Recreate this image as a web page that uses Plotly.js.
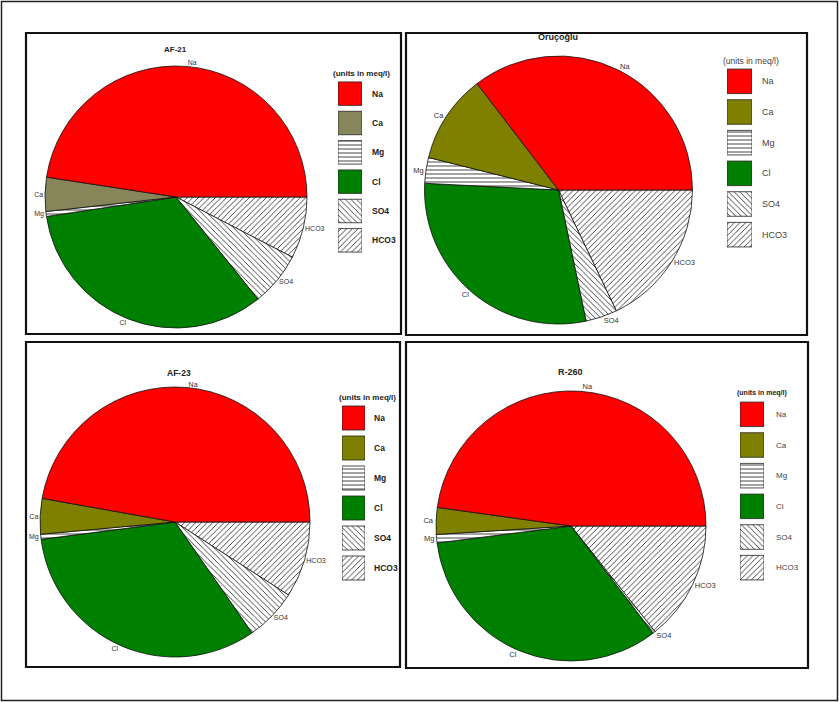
<!DOCTYPE html>
<html>
<head>
<meta charset="utf-8">
<script src="https://cdn.plot.ly/plotly-3.0.1.min.js"></script>
<style>html,body{margin:0;padding:0;background:#fff;}#chart{width:839px;height:702px;}</style>
</head>
<body>
<div id="chart"></div>
<script>
// ---- data (meq/l) ----
const categories = ['Na', 'Ca', 'Mg', 'Cl', 'SO4', 'HCO3'];
const sampleNames = ['AF-21', 'Oruçoğlu', 'AF-23', 'R-260'];
const af21Values = [47.6, 4.2, 0.6, 33.4, 6.65, 7.6];
const orucogluValues = [35.4, 10.7, 3.1, 29.1, 3.8, 17.9];
const af23Values = [47.2, 4.25, 0.6, 32.6, 6.25, 9.1];
const r260Values = [47.8, 3.2, 1.0, 33.4, 0.3, 14.3];
const legendTitle = '(units in meq/l)';

// ---- styles ----
const W = 839, H = 702;
const FONT = 'Arial, "Liberation Sans", sans-serif';
const colorsGrayOlive = ['#ff0000', '#86865a', '#ffffff', '#008000', '#ffffff', '#ffffff'];
const colorsOlive = ['#ff0000', '#808000', '#ffffff', '#008000', '#ffffff', '#ffffff'];
const shapes = ['', '', '-', '', '\\', '/'];
const PAT_SIZE = 4, PAT_SOLID = 0.18;

const px = v => v / W;
const py = v => 1 - v / H;
const rev = a => a.slice().reverse();

const panels = [
  {values: af21Values, colors: colorsGrayOlive, cx: 176, cy: 197, r: 131, lblSize: 7,
   title: {x: 175, y: 49, size: 8, bold: true},
   leg: {x0: 338, x1: 362, y0: 79, y1: 255, standoff: 9, size: 8.5, bold: true, color: '#222'},
   legTitle: {x: 361, y: 73, size: 8, bold: true}},
  {values: orucogluValues, colors: colorsOlive, cx: 558.5, cy: 190, r: 134, lblSize: 7.5,
   title: {x: 558, y: 37, size: 9, bold: true},
   leg: {x0: 727, x1: 752, y0: 66, y1: 250, standoff: 9, size: 9, bold: false, color: '#444'},
   legTitle: {x: 751, y: 61, size: 8.5, bold: false}},
  {values: af23Values, colors: colorsOlive, cx: 175, cy: 522, r: 135, lblSize: 7,
   title: {x: 179, y: 373, size: 8.5, bold: true},
   leg: {x0: 342, x1: 365, y0: 403, y1: 583, standoff: 8, size: 8.5, bold: true, color: '#222'},
   legTitle: {x: 367, y: 397, size: 8, bold: true}},
  {values: r260Values, colors: colorsOlive, cx: 571, cy: 526, r: 135, lblSize: 7.5,
   title: {x: 570, y: 372, size: 9, bold: true},
   leg: {x0: 740, x1: 764, y0: 399, y1: 583, standoff: 11, size: 8, bold: false, color: '#444'},
   legTitle: {x: 762, y: 393, size: 7, bold: true}}
];

const data = [];
const layout = {
  width: W, height: H,
  margin: {l: 0, r: 0, t: 0, b: 0},
  paper_bgcolor: '#fff', plot_bgcolor: 'rgba(0,0,0,0)',
  showlegend: false,
  barmode: 'overlay',
  font: {family: FONT},
  annotations: [],
  shapes: []
};

panels.forEach((p, i) => {
  // pie: slices run counterclockwise from 3 o'clock (Na first); drawn clockwise
  // from 3 o'clock in reverse order, which gives the same arrangement
  data.push({
    type: 'pie',
    values: rev(p.values),
    labels: rev(categories),
    sort: false,
    direction: 'clockwise',
    rotation: 90,
    domain: {x: [px(p.cx - p.r), px(p.cx + p.r)], y: [py(p.cy + p.r), py(p.cy - p.r)]},
    marker: {
      colors: rev(p.colors),
      line: {color: '#111', width: 0.8},
      pattern: {shape: rev(shapes), fgcolor: '#000', size: PAT_SIZE, solidity: PAT_SOLID}
    },
    textinfo: 'label',
    textposition: 'outside',
    textfont: {family: FONT, size: p.lblSize, color: '#333'},
    hoverinfo: 'label+value',
    showlegend: false
  });

  // legend swatches: one small bar per category
  const n = i === 0 ? '' : String(i + 1);
  categories.forEach((c, k) => {
    data.push({
      type: 'bar',
      orientation: 'h',
      y: [c],
      x: [1],
      width: 0.8,
      xaxis: 'x' + n, yaxis: 'y' + n,
      marker: {
        color: p.colors[k],
        line: {color: '#222', width: 0.8},
        pattern: {shape: shapes[k], fgcolor: '#000', size: PAT_SIZE, solidity: PAT_SOLID}
      },
      hoverinfo: 'y',
      showlegend: false
    });
  });
  layout['xaxis' + n] = {
    domain: [px(p.leg.x0), px(p.leg.x1)], range: [0, 1], visible: false,
    anchor: 'y' + n, fixedrange: true
  };
  layout['yaxis' + n] = {
    domain: [py(p.leg.y1), py(p.leg.y0)], type: 'category',
    categoryorder: 'array', categoryarray: categories, autorange: 'reversed',
    anchor: 'x' + n, side: 'right', showgrid: false, zeroline: false, showline: false,
    ticks: '', ticklabelstandoff: p.leg.standoff, fixedrange: true,
    tickfont: {family: FONT, size: p.leg.size, color: p.leg.color, weight: p.leg.bold ? 'bold' : 'normal'}
  };

  // pie title
  layout.annotations.push({
    text: sampleNames[i], xref: 'paper', yref: 'paper', x: px(p.title.x), y: py(p.title.y),
    xanchor: 'center', yanchor: 'middle', showarrow: false,
    font: {family: FONT, size: p.title.size, color: '#222', weight: p.title.bold ? 'bold' : 'normal'}
  });
  // legend title
  layout.annotations.push({
    text: legendTitle, xref: 'paper', yref: 'paper', x: px(p.legTitle.x), y: py(p.legTitle.y),
    xanchor: 'center', yanchor: 'middle', showarrow: false,
    font: {family: FONT, size: p.legTitle.size, color: p.legTitle.bold ? '#222' : '#444',
           weight: p.legTitle.bold ? 'bold' : 'normal'}
  });
});

// panel frames
const frames = [[26, 33, 401, 334], [406, 33, 807, 335], [26, 342, 400, 667], [406, 342, 808, 668]];
frames.forEach(f => {
  layout.shapes.push({type: 'rect', xref: 'paper', yref: 'paper',
    x0: px(f[0]), x1: px(f[2]), y0: py(f[3]), y1: py(f[1]),
    line: {color: '#111', width: 2.2}, fillcolor: 'rgba(0,0,0,0)', layer: 'above'});
});
// outer frame
layout.shapes.push({type: 'rect', xref: 'paper', yref: 'paper',
  x0: px(1.5), x1: px(837.5), y0: py(700.5), y1: py(1.5),
  line: {color: '#222', width: 1.5}, fillcolor: 'rgba(0,0,0,0)', layer: 'above'});

Plotly.newPlot('chart', data, layout, {displayModeBar: false, staticPlot: true});
</script>
</body>
</html>
